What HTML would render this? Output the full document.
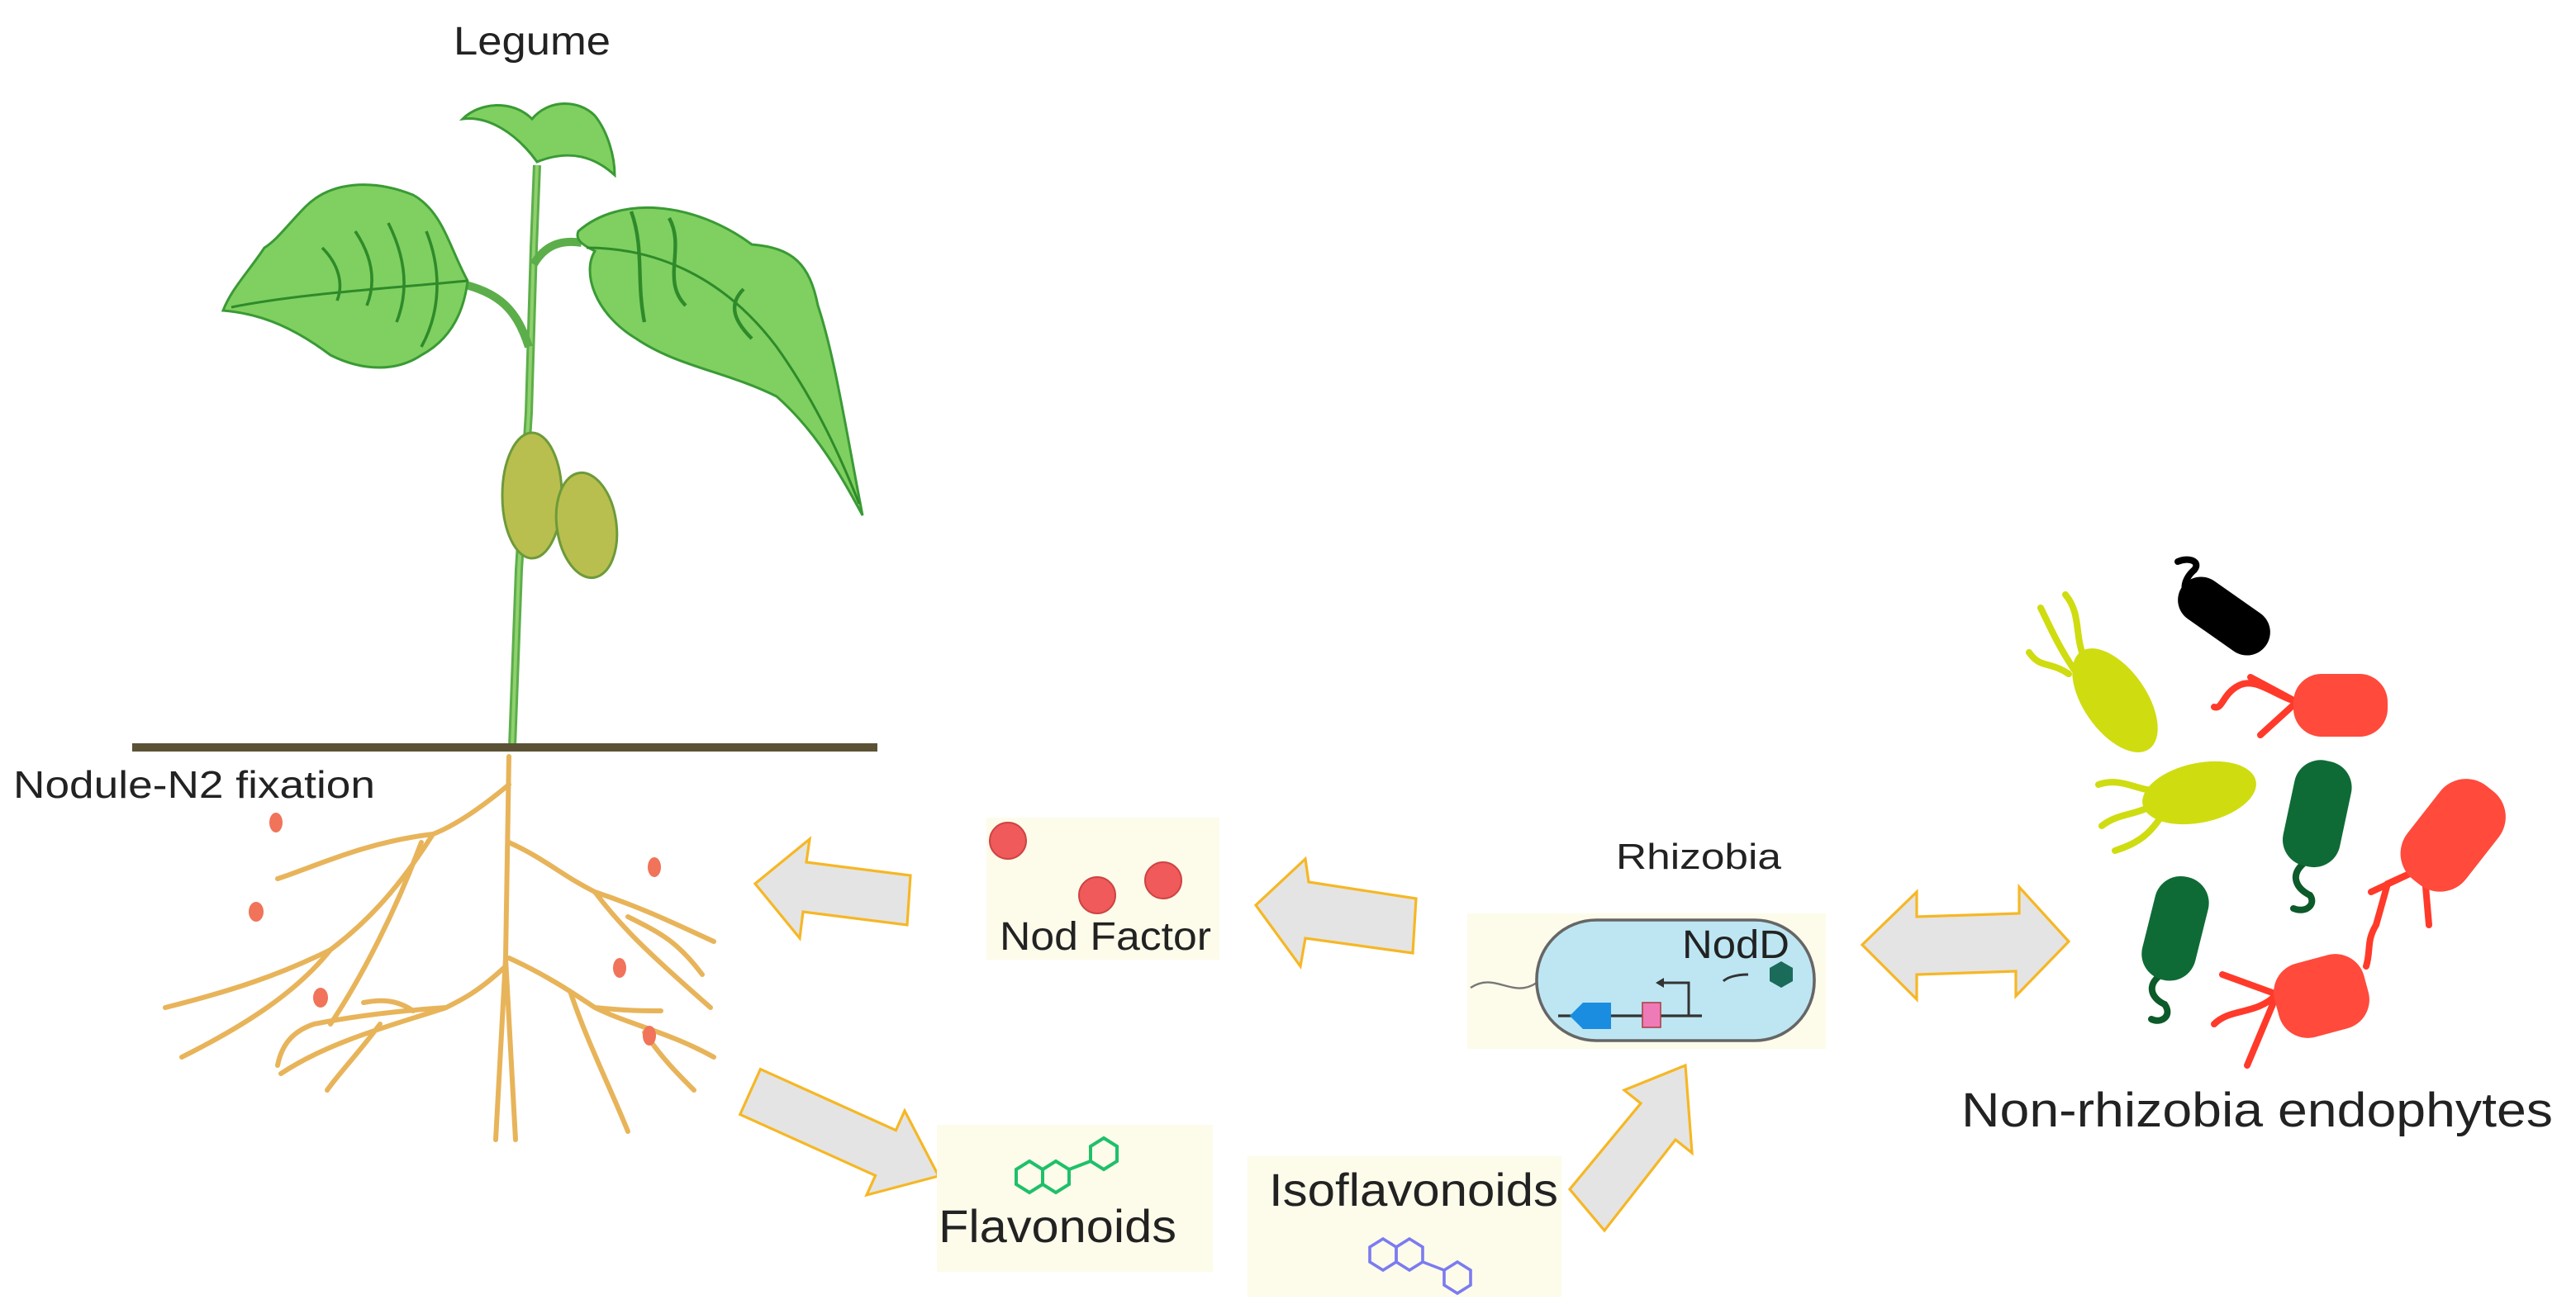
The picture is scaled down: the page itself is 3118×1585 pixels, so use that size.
<!DOCTYPE html>
<html><head><meta charset="utf-8"><style>
html,body{margin:0;padding:0;background:#fff;}
svg{display:block;}
text{font-family:"Liberation Sans",sans-serif;fill:#222;}
</style></head><body>
<svg width="3118" height="1585" viewBox="0 0 1559 792.5" xmlns="http://www.w3.org/2000/svg">
<rect width="1559" height="792.5" fill="#fff"/>
<text x="322" y="33" font-size="24" text-anchor="middle" textLength="95" lengthAdjust="spacingAndGlyphs">Legume</text>
<!-- stem -->
<path d="M310,452 L314,345 L320,250 L323,150 L325,100" stroke="#5cae4a" stroke-width="5" fill="none"/>
<path d="M310,452 L314,345 L320,250 L323,150 L325,100" stroke="#8fd16e" stroke-width="2" fill="none"/>
<path d="M320,210 C312,185 300,175 270,170" stroke="#5cae4a" stroke-width="5" fill="none"/>
<path d="M323,160 C330,148 340,145 352,147" stroke="#5cae4a" stroke-width="5" fill="none"/>
<path d="M325,98 C312,80 295,70 280,72 C290,62 310,60 322,72 C332,60 350,60 360,70 C368,80 372,95 372,106 C360,95 345,90 325,98Z" fill="#7fd060" stroke="#3a9a35" stroke-width="1.5"/>
<path d="M283,170 C272,150 268,128 250,118 C225,108 200,110 185,125 C175,135 168,145 160,150 C150,165 140,175 135,188 C160,190 180,200 200,215 C220,225 240,225 255,215 C268,208 280,195 283,170Z" fill="#7fd060" stroke="#3a9a35" stroke-width="1.5"/>
<path d="M140,186 C180,178 230,175 283,170" stroke="#2f8a2a" stroke-width="1.5" fill="none"/>
<path d="M258,140 C268,165 266,190 255,210 M235,135 C245,155 248,175 240,195 M215,140 C225,155 228,170 222,185 M195,150 C205,160 208,172 204,182" stroke="#2f8a2a" stroke-width="1.8" fill="none"/>
<path d="M350,140 C375,118 420,122 455,148 C480,150 490,160 495,185 C505,215 512,260 522,312 C510,290 495,262 470,240 C440,225 410,222 385,205 C360,190 352,165 360,152 C352,148 348,145 350,140Z" fill="#7fd060" stroke="#3a9a35" stroke-width="1.5"/>
<path d="M355,150 C400,150 440,170 470,210 C495,245 510,280 520,305" stroke="#2f8a2a" stroke-width="1.5" fill="none"/>
<path d="M382,128 C390,150 385,170 390,195 M405,132 C415,150 400,170 415,185 M450,175 C440,185 445,195 455,205" stroke="#2f8a2a" stroke-width="2.2" fill="none"/>
<ellipse cx="322" cy="300" rx="18" ry="38" fill="#b8bf4e" stroke="#6d9a3a" stroke-width="1.5"/>
<ellipse cx="355" cy="318" rx="18" ry="32" transform="rotate(-8 355 318)" fill="#b8bf4e" stroke="#6d9a3a" stroke-width="1.5"/>
<rect x="80" y="450" width="451" height="5" fill="#5b5236"/>
<text x="8" y="483" font-size="23" textLength="219" lengthAdjust="spacingAndGlyphs">Nodule-N2 fixation</text>
<g stroke="#e8b45a" stroke-width="3" fill="none" stroke-linecap="round">
<path d="M308,458 L306,580 L300,690 M306,580 L312,690"/>
<path d="M308,475 C290,490 275,500 262,505 C220,510 190,525 168,532"/>
<path d="M262,505 C240,540 220,560 200,575 C170,590 140,600 100,610"/>
<path d="M255,510 C240,550 220,590 200,620"/>
<path d="M200,575 C180,600 150,620 110,640"/>
<path d="M308,510 C330,520 340,530 360,540 C390,550 410,560 432,570 M360,540 C375,560 390,575 430,610 M380,555 C400,565 410,570 425,590"/>
<path d="M306,585 C290,600 280,605 270,610 C240,612 215,615 190,620 C175,625 170,635 168,645 M270,610 C240,620 200,630 170,650 M230,620 C215,640 205,650 198,660 M250,612 C240,605 230,605 220,607"/>
<path d="M308,580 C330,590 345,600 360,610 C380,612 390,612 400,612 M360,610 C380,620 405,625 432,640 M345,600 C355,630 370,660 380,685 M390,625 C400,640 410,650 420,660"/>
</g>
<g fill="#f0735a">
<ellipse cx="167" cy="498" rx="4" ry="6"/><ellipse cx="155" cy="552" rx="4.5" ry="6"/>
<ellipse cx="396" cy="525" rx="4" ry="6"/><ellipse cx="194" cy="604" rx="4.5" ry="6"/>
<ellipse cx="375" cy="586" rx="4" ry="6"/><ellipse cx="393" cy="627" rx="4" ry="6"/>
</g>
<g fill="#e4e4e4" stroke="#f6b725" stroke-width="1.6" stroke-linejoin="miter">
<path d="M457,535 L490,508 L488,522 L551,530 L549,560 L486,552 L484,568Z"/>
<path d="M760,548 L790,520 L792,534 L857,544 L855,577 L790,568 L787,585Z"/>
<path d="M1127,572 L1160,540 L1160,555 L1222,553 L1222,537 L1252,570 L1220,603 L1220,588 L1160,590 L1160,605Z"/>
<path d="M568,712 L524.5,723.5 L529.8,711.7 L447.9,674.7 L460.2,647.3 L542.2,684.3 L547.5,672.5Z"/>
<path d="M950,720 L993,668 L983,660 L1020,645 L1024,698 L1014,690 L971,745Z"/>
</g>
<rect x="597" y="495" width="141" height="86" fill="#fdfbea"/>
<circle cx="610" cy="509" r="11" fill="#f05a5a" stroke="#c44" stroke-width="1"/>
<circle cx="664" cy="542" r="11" fill="#f05a5a" stroke="#c44" stroke-width="1"/>
<circle cx="704" cy="533" r="11" fill="#f05a5a" stroke="#c44" stroke-width="1"/>
<text x="605" y="575" font-size="24" fill="#333" textLength="128" lengthAdjust="spacingAndGlyphs">Nod Factor</text>
<text x="978" y="526" font-size="22" textLength="100" lengthAdjust="spacingAndGlyphs">Rhizobia</text>
<rect x="888" y="553" width="217" height="82" fill="#fdfbea"/>
<path d="M890,598 C905,588 915,605 930,595" stroke="#777" stroke-width="1.2" fill="none"/>
<rect x="930" y="557" width="168" height="73" rx="36" fill="#bde6f2" stroke="#666" stroke-width="1.8"/>
<text x="1018" y="580" font-size="24" fill="#333" textLength="65" lengthAdjust="spacingAndGlyphs">NodD</text>
<polygon points="1078,582 1085,586 1085,594 1078,598 1071,594 1071,586" fill="#1b6b5a"/>
<path d="M1058,590 C1050,590 1045,592 1043,594" stroke="#333" stroke-width="1.5" fill="none"/>
<line x1="943" y1="615" x2="1030" y2="615" stroke="#333" stroke-width="1.6"/>
<path d="M950,615 L958,607 L975,607 L975,623 L958,623Z" fill="#1a8de0"/>
<rect x="994" y="607" width="11" height="15" fill="#ef7ab8" stroke="#a44" stroke-width="0.8"/>
<path d="M1022,615 L1022,595 L1005,595" stroke="#333" stroke-width="1.5" fill="none"/>
<polygon points="1002,595 1007,592 1007,598" fill="#333"/>
<rect x="567" y="681" width="167" height="89" fill="#fdfbea"/>
<g fill="none" stroke="#1fc06a" stroke-width="2">
<polygon points="623,703 631,708 631,717 623,722 615,717 615,708"/>
<polygon points="639,703 647,708 647,717 639,722 631,717 631,708"/>
<polygon points="668,689 676,694 676,703 668,708 660,703 660,694"/>
<line x1="647" y1="708" x2="660" y2="703"/>
</g>
<text x="568" y="752" font-size="28" fill="#333" textLength="144" lengthAdjust="spacingAndGlyphs">Flavonoids</text>
<rect x="755" y="700" width="190" height="85" fill="#fdfbea"/>
<text x="768" y="730" font-size="28" fill="#333" textLength="175" lengthAdjust="spacingAndGlyphs">Isoflavonoids</text>
<g fill="none" stroke="#7b7bf0" stroke-width="1.8">
<polygon points="837,750 845,755 845,764 837,769 829,764 829,755"/>
<polygon points="853,750 861,755 861,764 853,769 845,764 845,755"/>
<polygon points="882,764 890,769 890,778 882,783 874,778 874,769"/>
<line x1="861" y1="764" x2="874" y2="769"/>
</g>
<g stroke-linecap="round" fill="none" stroke-width="4">
<path d="M1330,365 C1318,360 1322,350 1328,345 C1332,340 1325,337 1318,340" stroke="#000"/>
<path d="M1262,400 C1255,385 1260,372 1250,360 M1255,405 C1245,390 1240,378 1235,368 M1252,408 C1240,400 1235,405 1228,395" stroke="#cfdc10"/>
<path d="M1390,425 C1375,420 1365,410 1355,415 C1345,420 1345,430 1340,428 M1390,425 L1362,410 M1390,425 L1368,445" stroke="#ff3a2a"/>
<path d="M1305,478 C1295,480 1285,470 1270,475 M1308,482 C1298,495 1285,490 1272,500 M1312,488 C1302,505 1295,510 1280,515" stroke="#cfdc10"/>
<path d="M1395,522 C1385,530 1390,538 1398,542 C1402,548 1395,553 1388,550" stroke="#0d5a2a"/>
<path d="M1467,525 L1445,535 L1438,560 C1432,570 1435,575 1432,585 M1467,525 L1435,540 M1467,525 L1470,560" stroke="#ff3a2a"/>
<path d="M1308,590 C1298,597 1303,605 1310,608 C1315,615 1308,620 1302,617" stroke="#0d5a2a"/>
<path d="M1378,602 L1345,590 M1378,602 C1365,615 1350,610 1340,620 M1378,602 L1360,645" stroke="#ff3a2a"/>
</g>
<rect x="1315" y="359" width="62" height="28" rx="14" fill="#000" transform="rotate(35 1346 373)"/>
<ellipse cx="1280" cy="424" rx="36" ry="19" transform="rotate(55 1280 424)" fill="#cfdc10"/>
<rect x="1388" y="408" width="57" height="38" rx="17" fill="#ff4a3c"/>
<ellipse cx="1331" cy="480" rx="35" ry="18" transform="rotate(-12 1331 480)" fill="#cfdc10"/>
<rect x="1385" y="460" width="35" height="65" rx="16" fill="#0f6b36" transform="rotate(12 1402 492)"/>
<rect x="1462" y="470" width="45" height="72" rx="20" fill="#ff4a3c" transform="rotate(38 1485 506)"/>
<rect x="1300" y="530" width="33" height="64" rx="16" fill="#0f6b36" transform="rotate(14 1316 562)"/>
<rect x="1377" y="580" width="56" height="46" rx="18" fill="#ff4a3c" transform="rotate(-15 1405 603)"/>
<text x="1187" y="682" font-size="29" fill="#111" textLength="358" lengthAdjust="spacingAndGlyphs">Non-rhizobia endophytes</text>
</svg>
</body></html>
